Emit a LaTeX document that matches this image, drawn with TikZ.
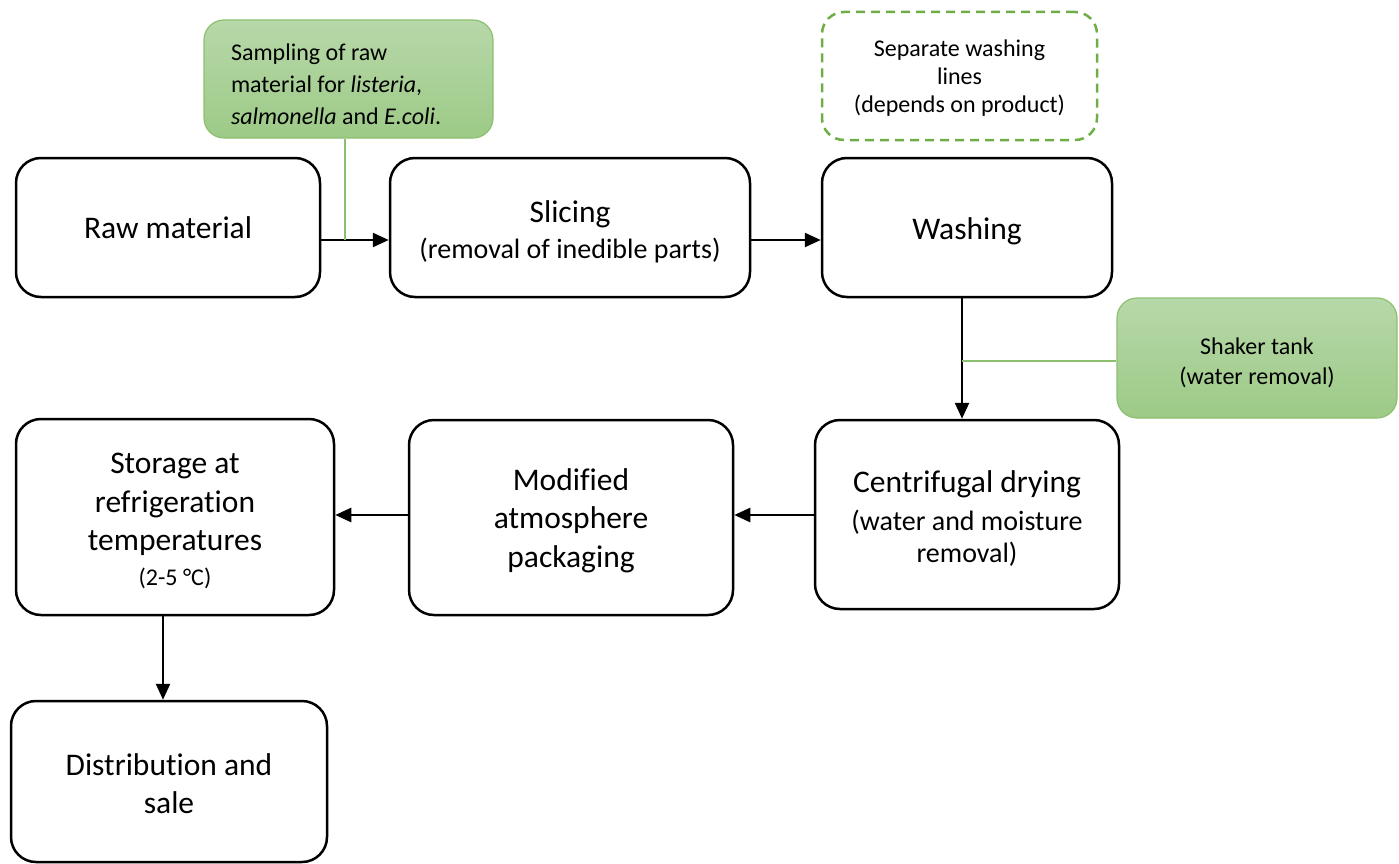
\documentclass[tikz,border=0pt]{standalone}
\usepackage{fontspec}
\setmainfont{Carlito}[Ligatures=NoCommon]
\usetikzlibrary{arrows.meta}
\definecolor{gfilltop}{HTML}{B7D8A9}
\definecolor{gfillbot}{HTML}{9DCA87}
\definecolor{gborder}{HTML}{8CC06F}
\definecolor{gline}{HTML}{8CC06F}
\definecolor{gdash}{HTML}{70AD47}
\newcommand{\bigf}{\fontsize{31.5}{38.5}\selectfont}
\newcommand{\smallf}{\fontsize{28}{34}\selectfont}
\newcommand{\up}[1]{\rule{0pt}{#1pt}}
\tikzset{
  procbox/.style={draw=black, line width=2.5pt, rounded corners=25pt, fill=white, align=center, inner sep=0pt, font=\bigf},
  greenbox/.style={draw=gborder, line width=1.2pt, rounded corners=20pt, top color=gfilltop, bottom color=gfillbot, inner sep=0pt},
  dashbox/.style={draw=gdash, line width=2.5pt, dash pattern=on 9pt off 6pt, rounded corners=22pt, align=center, inner sep=0pt},
  arr/.style={line width=2.5pt, -{Triangle[length=16pt,width=14pt]}},
  gconn/.style={draw=gline, line width=1.2pt}
}
\begin{document}
\begin{tikzpicture}[x=1pt,y=-1pt]
\useasboundingbox (0,0) rectangle (1399,864);
% green annotation boxes
\node[greenbox, minimum width=289pt, minimum height=118pt, text width=235pt, align=left, font=\fontsize{24}{32}\selectfont] (samp) at (348.5,79)
  {\spaceskip=0pt\xspaceskip=0pt\relax\up{27}Sampling of raw\\material for \textit{listeria},\\\textit{salmonella} and \textit{E.coli}.};
\node[dashbox, minimum width=275pt, minimum height=128pt, font=\fontsize{24}{28}\selectfont] (sep) at (959.5,76)
  {\up{21}Separate washing\\lines\\(depends on product)};
\node[greenbox, minimum width=280pt, minimum height=120pt, align=center, font=\fontsize{24}{30}\selectfont] (shak) at (1257,358)
  {\up{26}Shaker tank\\(water removal)};
% process boxes
\node[procbox, minimum width=304pt, minimum height=139pt] (raw) at (168,227.5) {Raw material};
\node[procbox, minimum width=360pt, minimum height=139pt] (slice) at (570,227.5) {\up{31}Slicing\\[-2pt]\smallf (removal of inedible parts)};
\node[procbox, minimum width=304pt, minimum height=189pt] (cent) at (967,514.5) {\up{30}Centrifugal drying\\[-1pt]\smallf (water and moisture\\[-6pt]\smallf removal)};
\node[procbox, minimum width=290pt, minimum height=139pt] (wash) at (967,227.5) {\up{30}Washing};
\node[procbox, minimum width=324pt, minimum height=195pt] (mod) at (571,517.5) {\up{28}Modified\\atmosphere\\packaging};
\node[procbox, minimum width=318pt, minimum height=196pt] (stor) at (175,517) {\up{28}Storage at\\refrigeration\\temperatures\\[-4pt]\fontsize{24}{30}\selectfont (2-5 °C)};
\node[procbox, minimum width=316pt, minimum height=161pt] (dist) at (169,781.5) {\up{26}Distribution and\\sale};
% connectors
\coordinate (j1) at (345,240);
\coordinate (j2) at (962,361);
\draw[arr] (raw.east |- j1) -- (slice.west |- j1);
\draw[arr] (slice.east |- j1) -- (wash.west |- j1);
\draw[arr] (wash.south -| j2) -- (cent.north -| j2);
\draw[arr] (cent.west |- 0,515) -- (mod.east |- 0,515);
\draw[arr] (mod.west |- 0,515) -- (stor.east |- 0,515);
\draw[arr] (stor.south -| 163,0) -- (dist.north -| 163,0);
\draw[gconn] (samp.south -| j1) -- (j1);
\draw[gconn] (j2) -- (shak.west |- j2);
\end{tikzpicture}
\end{document}
